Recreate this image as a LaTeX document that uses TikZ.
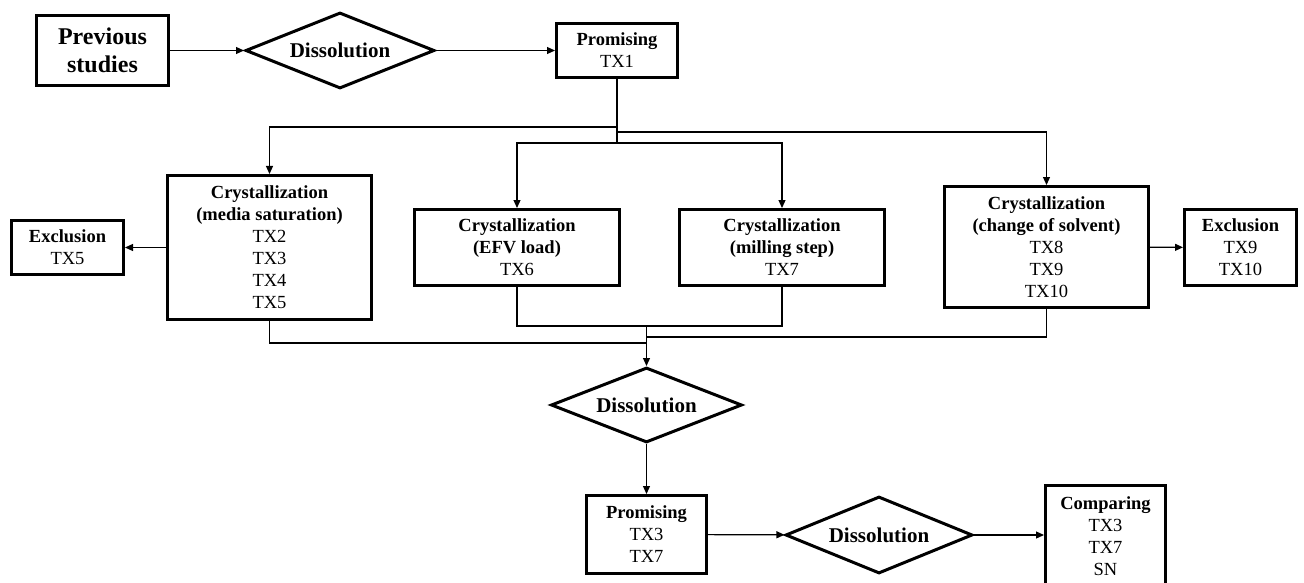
\documentclass[tikz,border=0pt]{standalone}
\usepackage{fontspec}
\setmainfont{Liberation Serif}
\usetikzlibrary{shapes.geometric,arrows.meta}
\begin{document}
\begin{tikzpicture}[x=1pt, y=-1pt, line width=1.2pt, >={Triangle[length=8pt,width=7pt]},
  proc/.style = {draw, line width=3pt, inner sep=0pt, align=center, font=\fontsize{18.5}{22}\selectfont},
  test/.style = {draw, line width=3pt, diamond, aspect=2.5, inner sep=0pt, font=\fontsize{21}{24}\selectfont\bfseries}]
\useasboundingbox (0,0) rectangle (1304,583);
\node[proc, minimum width=132pt, minimum height=70pt, font=\fontsize{24}{28}\selectfont\bfseries] (prev) at (102.5,50.5) {Previous\\studies};
\node[test, minimum width=189pt, minimum height=76pt] (diss1) at (340,50.5) {Dissolution};
\node[proc, minimum width=121pt, minimum height=54pt] (prom1) at (617,50.5) {\textbf{Promising}\\TX1};
\node[proc, minimum width=204pt, minimum height=144pt] (media) at (269.5,247.5) {\textbf{Crystallization}\\\textbf{(media saturation)}\\TX2\\TX3\\TX4\\TX5};
\node[proc, minimum width=112pt, minimum height=54pt] (exc1) at (67.5,247.5) {\textbf{Exclusion}\\TX5};
\node[proc, minimum width=205pt, minimum height=76pt] (efv) at (517,247.5) {\textbf{Crystallization}\\\textbf{(EFV load)}\\TX6};
\node[proc, minimum width=205pt, minimum height=76pt] (mill) at (782,247.5) {\textbf{Crystallization}\\\textbf{(milling step)}\\TX7};
\node[proc, minimum width=204pt, minimum height=121pt] (solv) at (1046.5,247) {\textbf{Crystallization}\\\textbf{(change of solvent)}\\TX8\\TX9\\TX10};
\node[proc, minimum width=112pt, minimum height=76pt] (exc2) at (1240.5,247.5) {\textbf{Exclusion}\\TX9\\TX10};
\node[test, minimum width=191pt, minimum height=75pt] (diss2) at (646.5,405) {Dissolution};
\node[proc, minimum width=120pt, minimum height=78pt] (prom2) at (646.5,534.5) {\textbf{Promising}\\TX3\\TX7};
\node[test, minimum width=187pt, minimum height=77pt] (diss3) at (879,535) {Dissolution};
\node[proc, minimum width=120pt, minimum height=101pt] (comp) at (1105.5,536) {\textbf{Comparing}\\TX3\\TX7\\SN};
\coordinate (j1) at (617,127);
\coordinate (j2) at (617,132);
\coordinate (j3) at (617,143);
\coordinate (m1) at (646.5,326);
\coordinate (m2) at (646.5,337);
\coordinate (m3) at (646.5,343);
\draw[->] (prev) -- (diss1);
\draw[->] (diss1) -- (prom1);
\draw (prom1) -- (j3);
\draw[->] (j1) -| (media);
\draw[->] (j2) -| (solv);
\draw[->] (j3) -| (efv);
\draw[->] (j3) -| (mill);
\draw[->] (media) -- (exc1);
\draw[->] (solv) -- (exc2);
\draw (efv) |- (m1);
\draw (mill) |- (m1);
\draw (solv) |- (m2);
\draw (media) |- (m3);
\draw[->] (m1) -- (diss2);
\draw[->] (diss2) -- (prom2);
\draw[->] (prom2) -- (diss3);
\draw[->] (diss3) -- (diss3 -| comp.west);
\end{tikzpicture}
\end{document}
